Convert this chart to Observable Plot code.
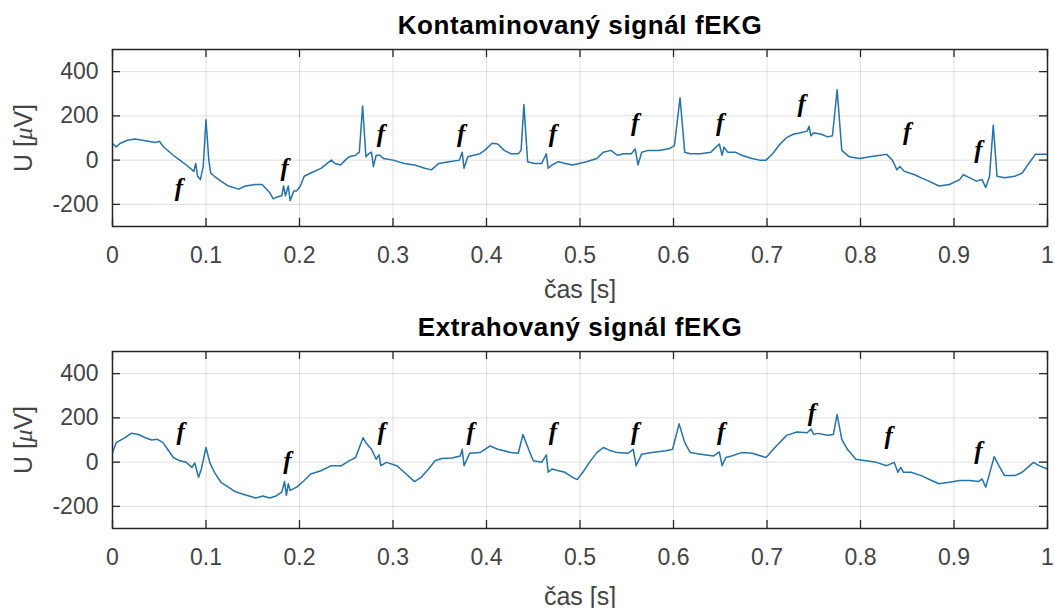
<!DOCTYPE html>
<html><head><meta charset="utf-8">
<script src="https://cdn.jsdelivr.net/npm/d3@7"></script>
<script src="https://cdn.jsdelivr.net/npm/@observablehq/plot@0.6"></script>
<style>
body{margin:0;background:#fff;}
#chart svg{display:block;}
</style></head><body><div id="chart"></div>
<script>
// ---- data ----
const titles = ["Kontaminovaný signál fEKG", "Extrahovaný signál fEKG"];
const xLabel = "čas [s]";
const yLabel = "U [μV]";
const xTicks = [0, 0.1, 0.2, 0.3, 0.4, 0.5, 0.6, 0.7, 0.8, 0.9, 1];
const xTickLabels = ["0", "0.1", "0.2", "0.3", "0.4", "0.5", "0.6", "0.7", "0.8", "0.9", "1"];
const yTicks = [-200, 0, 200, 400];
const yTickLabels = ["-200", "0", "200", "400"];
const xDomain = [0, 1];
const yDomain = [-300, 500];

// contaminated signal (top)
const tTop = [0,0.004,0.008,0.016,0.024,0.035,0.046,0.05,0.055,0.065,
0.072,0.079,0.087,0.089,0.091,0.094,0.097,0.1,0.103,0.105,
0.109,0.116,0.124,0.135,0.142,0.153,0.16,0.168,0.172,0.175,
0.181,0.183,0.185,0.188,0.19,0.194,0.197,0.201,0.205,0.212,
0.223,0.234,0.238,0.244,0.249,0.253,0.26,0.264,0.2675,0.271,
0.274,0.277,0.279,0.282,0.286,0.29,0.3,0.312,0.323,0.334,
0.341,0.349,0.36,0.371,0.374,0.376,0.38,0.386,0.393,0.398,
0.406,0.412,0.419,0.426,0.434,0.437,0.44,0.444,0.451,0.459,
0.464,0.466,0.47,0.477,0.484,0.492,0.499,0.507,0.518,0.525,
0.533,0.54,0.547,0.555,0.559,0.562,0.566,0.573,0.584,0.595,
0.601,0.607,0.612,0.618,0.629,0.64,0.649,0.652,0.654,0.658,
0.666,0.673,0.684,0.692,0.699,0.706,0.714,0.721,0.728,0.736,
0.743,0.745,0.747,0.75,0.758,0.765,0.77,0.775,0.78,0.788,
0.799,0.81,0.821,0.828,0.834,0.839,0.842,0.847,0.858,0.865,
0.873,0.884,0.895,0.906,0.91,0.917,0.924,0.93,0.934,0.938,
0.942,0.946,0.954,0.965,0.973,0.98,0.987,1];
const vTop = [75,60,75,90,95,88,80,85,58,22,
0,-22,-51,-15,-73,-88,-29,182,0,-58,
-73,-95,-117,-131,-117,-110,-110,-146,-175,-168,
-161,-117,-161,-117,-183,-139,-139,-117,-73,-58,
-37,0,-15,-22,0,15,22,36,245,15,
29,36,-29,22,22,7,0,-15,-22,-37,
-44,-15,-7,0,36,-37,15,22,29,44,
76,73,44,29,29,44,251,-7,-15,-15,
29,-37,-22,-7,-15,-22,-15,-7,7,36,
44,22,29,29,51,-22,36,44,44,51,
66,282,36,29,29,36,73,22,58,36,
36,22,7,0,0,29,73,102,117,124,
131,153,110,124,117,105,110,318,44,15,
7,15,22,26,0,-44,-29,-51,-66,-80,
-95,-117,-110,-88,-66,-80,-95,-88,-124,-73,
158,-73,-80,-73,-58,-15,26,26];

// extracted signal (bottom)
const tBot = [0,0.004,0.013,0.02,0.028,0.035,0.042,0.048,0.054,0.059,
0.065,0.072,0.079,0.085,0.088,0.092,0.095,0.1,0.104,0.109,
0.116,0.124,0.131,0.138,0.146,0.153,0.161,0.168,0.175,0.181,
0.184,0.186,0.188,0.19,0.197,0.205,0.212,0.223,0.234,0.245,
0.253,0.26,0.268,0.271,0.277,0.282,0.285,0.287,0.293,0.304,
0.312,0.323,0.33,0.338,0.345,0.352,0.363,0.372,0.374,0.376,
0.382,0.393,0.404,0.412,0.419,0.426,0.434,0.439,0.445,0.45,
0.459,0.464,0.466,0.47,0.477,0.484,0.492,0.497,0.503,0.51,
0.518,0.525,0.533,0.54,0.551,0.557,0.56,0.566,0.577,0.592,
0.599,0.606,0.612,0.618,0.629,0.643,0.649,0.652,0.656,0.662,
0.673,0.684,0.699,0.71,0.721,0.732,0.743,0.747,0.75,0.754,
0.765,0.771,0.775,0.78,0.786,0.795,0.806,0.817,0.828,0.836,
0.84,0.843,0.846,0.854,0.865,0.876,0.884,0.895,0.906,0.917,
0.926,0.93,0.934,0.943,0.948,0.954,0.965,0.973,0.98,0.985,
0.991,1];
const vBot = [43,88,110,130,125,110,100,103,88,58,
21,6,-1,-24,-4,-69,-31,66,-1,-46,
-91,-113,-133,-143,-153,-162,-153,-162,-153,-136,
-88,-150,-98,-128,-113,-83,-54,-39,-16,-16,
6,21,110,88,58,13,33,-16,-1,-16,
-46,-88,-69,-31,6,16,19,28,58,-16,
40,43,73,58,51,43,40,125,58,6,
-1,33,-46,-31,-39,-46,-69,-79,-46,-1,
43,66,51,43,40,58,-16,36,43,51,
58,173,88,43,36,28,46,-16,21,28,
43,40,21,73,121,136,133,150,125,130,
121,125,215,103,58,13,6,-1,-16,-1,
-46,-24,-46,-46,-61,-83,-98,-91,-83,-83,
-88,-76,-113,25,-16,-61,-61,-46,-19,-1,
-16,-31];

// "f" markers (fetal complexes)
const fTopT = [0.071,0.184,0.287,0.373,0.471,0.559,0.650,0.737,0.850,0.926];
const fTopV = [-128,-36,120,120,120,170,170,252,128,45];
const fBotT = [0.073,0.187,0.288,0.383,0.471,0.559,0.651,0.748,0.830,0.926];
const fBotV = [134,3,137,137,134,137,137,222,118,50];
const fLabel = "f";

// ---- drawing ----
const FONT = "'Liberation Sans', Arial, Helvetica, sans-serif";
const AX = "#444444";

function panel(t, v, fT, fV, title, height, marginBottom, xLabelDy) {
  const data = t.map((x, i) => ({t: x, v: v[i]}));
  const fdata = fT.map((x, i) => ({t: x, v: fV[i]}));
  const fmtX = d => xTickLabels[xTicks.indexOf(d)];
  const fmtY = d => yTickLabels[yTicks.indexOf(d)];
  return Plot.plot({
    width: 1055, height,
    marginLeft: 112, marginRight: 8, marginTop: 49, marginBottom,
    style: {fontFamily: FONT, background: "#fff", overflow: "visible"},
    x: {domain: xDomain},
    y: {domain: yDomain},
    marks: [
      Plot.gridX(xTicks, {stroke: "#000", strokeOpacity: 0.13, strokeWidth: 1}),
      Plot.gridY(yTicks, {stroke: "#000", strokeOpacity: 0.13, strokeWidth: 1}),
      Plot.line(data, {x: "t", y: "v", stroke: "#2473ab", strokeWidth: 1.5, strokeLinejoin: "round"}),
      Plot.text(fdata, {x: "t", y: "v", text: () => fLabel, fontFamily: "'Liberation Serif', 'DejaVu Serif', serif",
        fontStyle: "italic", fontWeight: "bold", fontSize: 25, fill: "#000"}),
      // inward ticks (box style)
      Plot.ruleX(xTicks, {x: d => d, y1: yDomain[0], y2: yDomain[0], insetTop: -8, stroke: "#262626", strokeWidth: 1.3}),
      Plot.ruleX(xTicks, {x: d => d, y1: yDomain[1], y2: yDomain[1], insetBottom: -8, stroke: "#262626", strokeWidth: 1.3}),
      Plot.ruleY(yTicks, {y: d => d, x1: xDomain[0], x2: xDomain[0], insetRight: -8, stroke: "#262626", strokeWidth: 1.3}),
      Plot.ruleY(yTicks, {y: d => d, x1: xDomain[1], x2: xDomain[1], insetLeft: -8, stroke: "#262626", strokeWidth: 1.3}),
      Plot.axisX({ticks: xTicks, tickFormat: fmtX, tickSize: 0, tickPadding: 20, fontSize: 23, fill: AX, label: null}),
      Plot.axisY({ticks: yTicks, tickFormat: fmtY, tickSize: 0, tickPadding: 14, fontSize: 23, fill: AX, label: null}),
      Plot.frame({stroke: "#262626", strokeWidth: 1.5}),
      Plot.text([title], {frameAnchor: "top", lineAnchor: "middle", dy: -24, fontSize: 26, fontWeight: "bold", fill: "#000"}),
      Plot.text([xLabel], {frameAnchor: "bottom", lineAnchor: "middle", dy: xLabelDy, fontSize: 25, fill: AX}),
      Plot.text([yLabel], {frameAnchor: "left", textAnchor: "middle", lineAnchor: "middle", dx: -89, rotate: -90, fontSize: 25, fill: AX})
    ]
  });
}

const chart = document.getElementById("chart");
const p1 = panel(tTop, vTop, fTopT, fTopV, titles[0], 302, 76, 63);
const p2 = panel(tBot, vBot, fBotT, fBotV, titles[1], 306, 80, 68);
chart.appendChild(p1);
chart.appendChild(p2);

// post-process: TeX-like italic mu, slightly wider title
for (const svg of [p1, p2]) {
  d3.select(svg).selectAll("text").each(function() {
    const el = d3.select(this);
    const txt = this.textContent;
    if (txt === yLabel) {
      const host = el.select("tspan").empty() ? el : el.select("tspan");
      host.text(null);
      host.append("tspan").text("U [");
      host.append("tspan").attr("font-family", "'Liberation Serif', serif").attr("font-style", "italic").text("μ");
      host.append("tspan").text("V]");
    }
    if (titles.includes(txt)) el.attr("letter-spacing", "0.6px");
  });
}
</script>
</body></html>
